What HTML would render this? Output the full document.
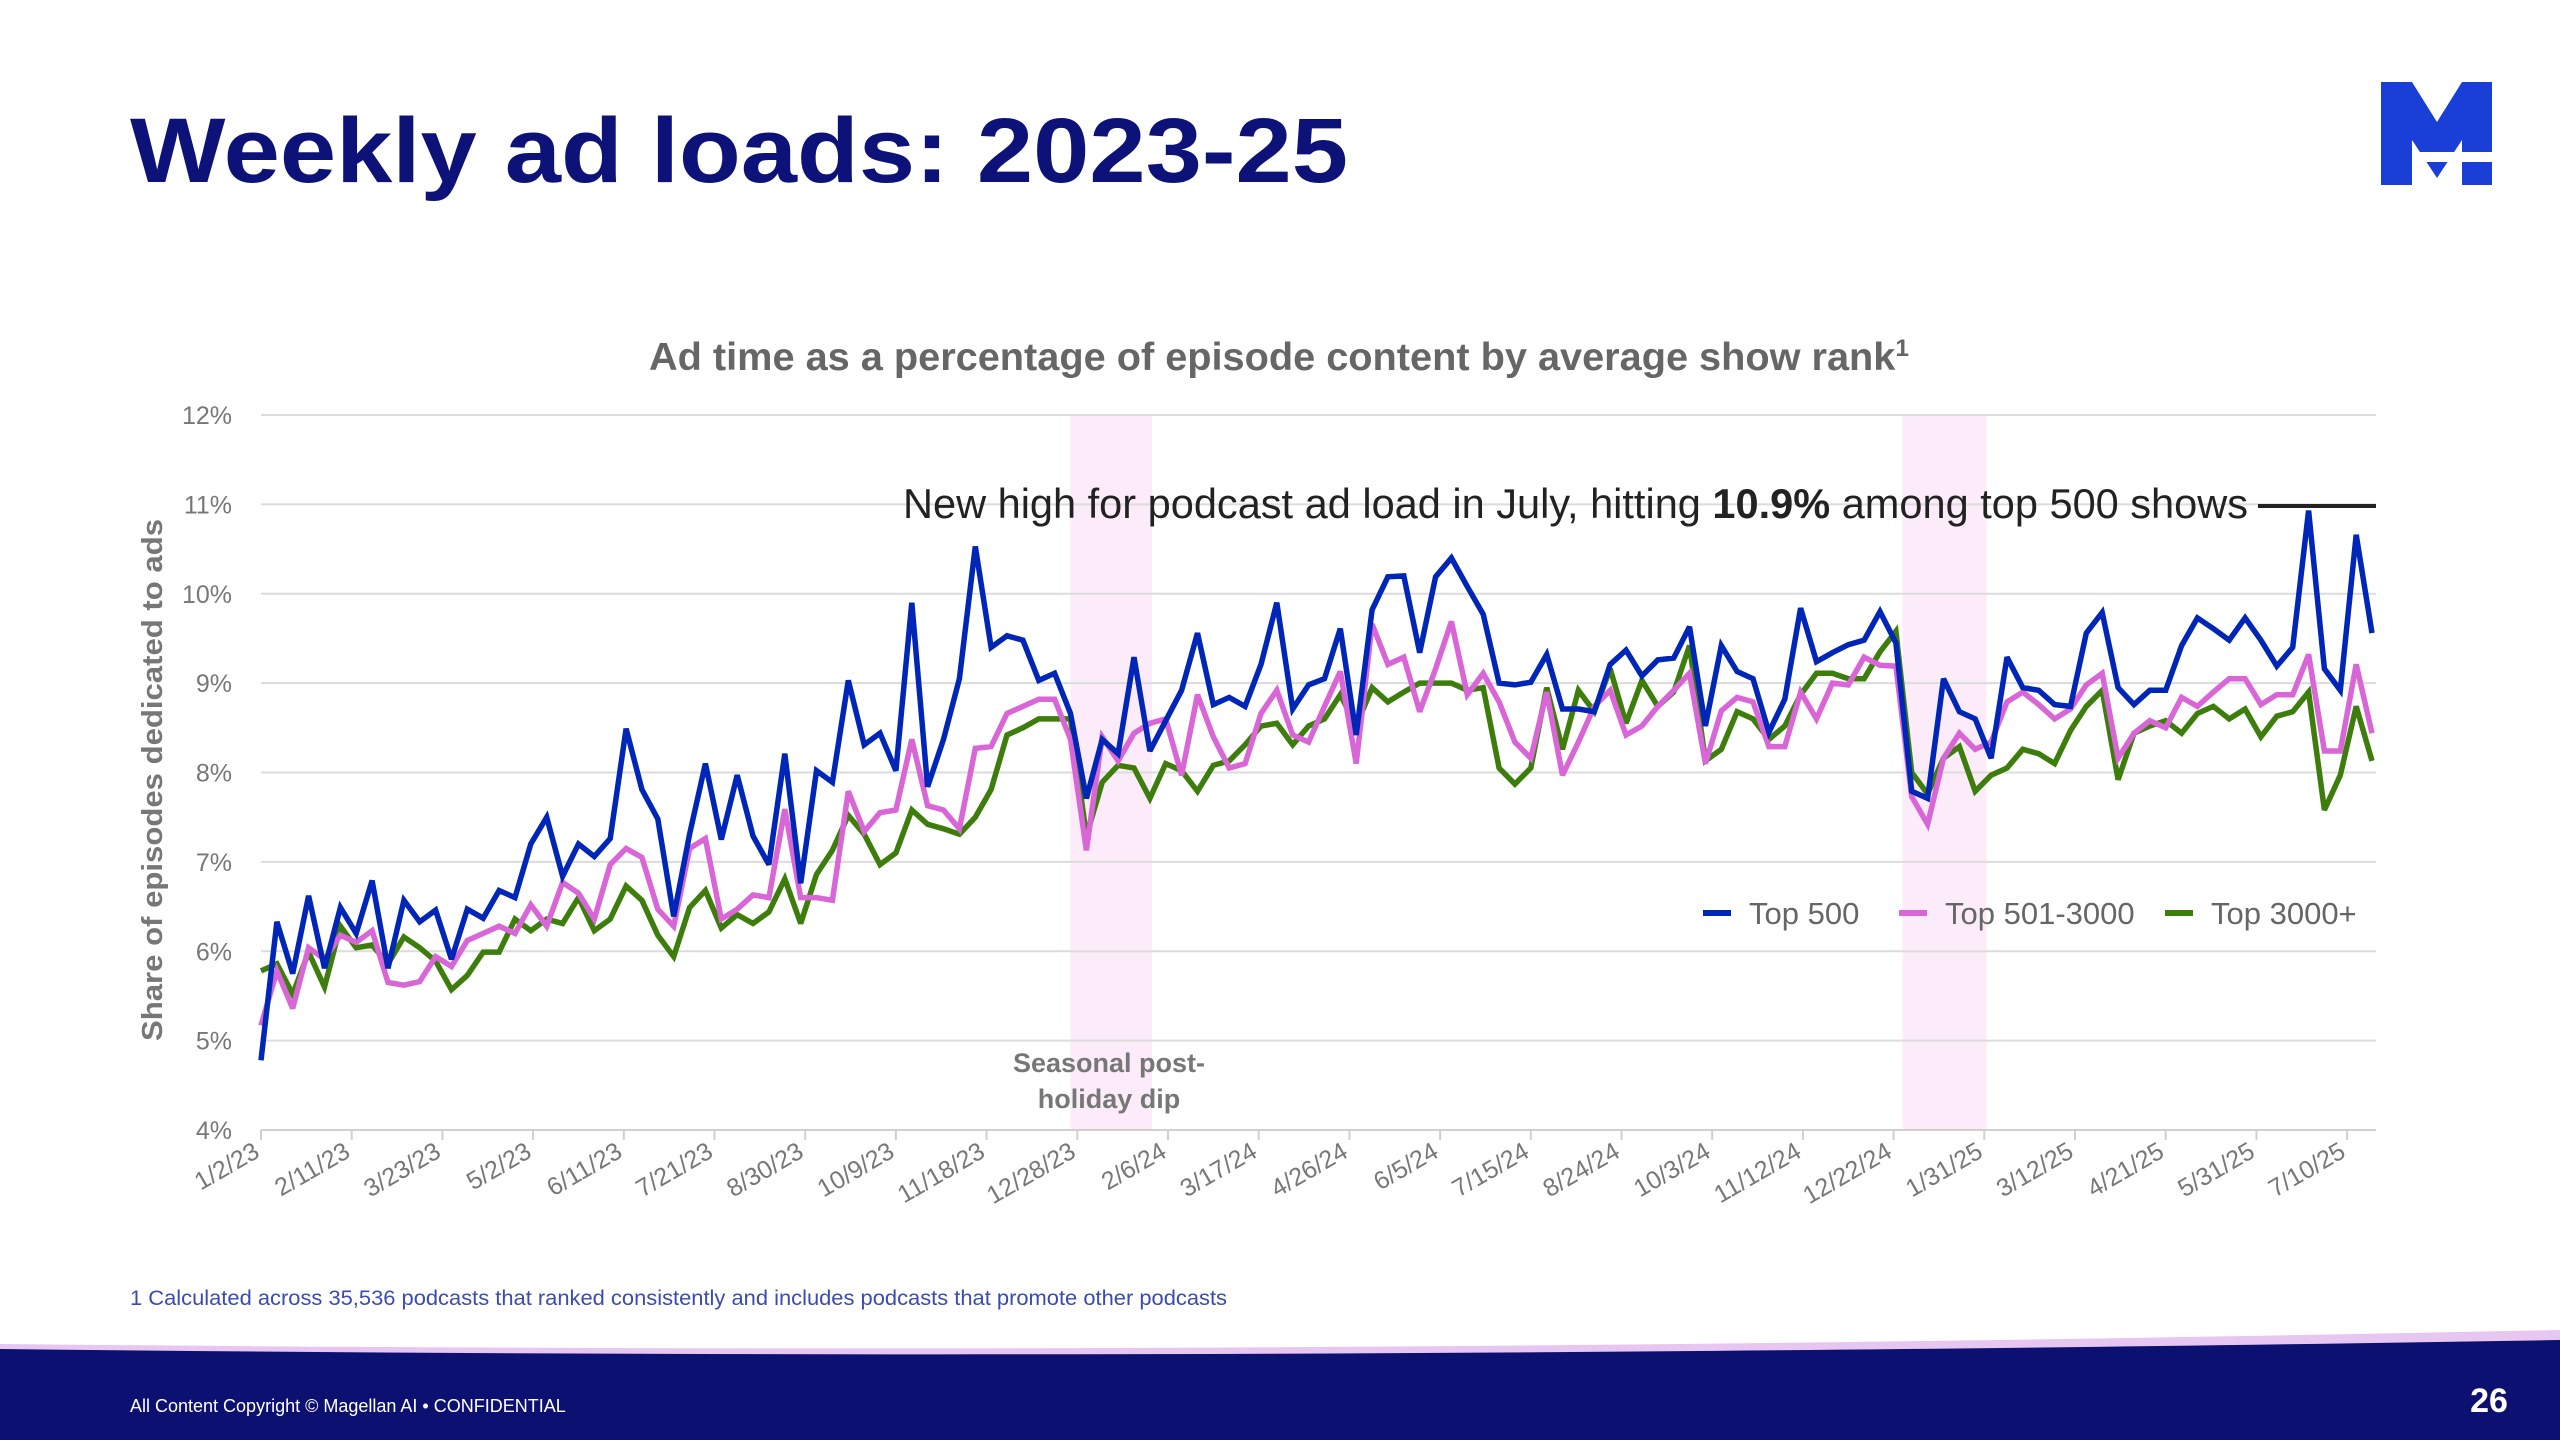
<!DOCTYPE html>
<html><head><meta charset="utf-8"><style>
html,body{margin:0;padding:0;background:#fff;}
svg{display:block;font-family:"Liberation Sans",sans-serif;}
</style></head><body>
<svg id="chart" width="2560" height="1440" viewBox="0 0 2560 1440" xmlns="http://www.w3.org/2000/svg">
<text x="130" y="182" font-size="92" font-weight="bold" fill="#0c1278" textLength="1218" lengthAdjust="spacingAndGlyphs">Weekly ad loads: 2023-25</text>
<g>
<polygon points="2381,82 2412,82 2437,122 2462,82 2492,82 2492,185 2462,185 2462,140 2437,178 2412,140 2412,185 2381,185" fill="#1a3fd6"/>
<rect x="2412" y="152" width="80" height="10" fill="#fff"/>
</g>
<text x="1279" y="370" text-anchor="middle" font-size="39" font-weight="bold" fill="#666" textLength="1260" lengthAdjust="spacingAndGlyphs">Ad time as a percentage of episode content by average show rank<tspan font-size="24" dy="-14">1</tspan></text>
<g id="plot"></g>
<text x="130" y="1305" font-size="21" fill="#3b4bb0" textLength="1097" lengthAdjust="spacingAndGlyphs">1 Calculated across 35,536 podcasts that ranked consistently and includes podcasts that promote other podcasts</text>
<path d="M0,1344 C800,1352 1600,1350 2560,1330 L2560,1440 L0,1440 Z" fill="#e8c6f2"/>
<path d="M0,1349 C800,1358 1600,1356 2560,1340 L2560,1440 L0,1440 Z" fill="#0c1070"/>
<text x="130" y="1412" font-size="18" fill="#fff">All Content Copyright © Magellan AI • CONFIDENTIAL</text>
<text x="2489" y="1412" text-anchor="middle" font-size="34" font-weight="bold" fill="#fff">26</text>
</svg>
<script>
const xTickLabels = ["1/2/23","2/11/23","3/23/23","5/2/23","6/11/23","7/21/23","8/30/23","10/9/23","11/18/23","12/28/23","2/6/24","3/17/24","4/26/24","6/5/24","7/15/24","8/24/24","10/3/24","11/12/24","12/22/24","1/31/25","3/12/25","4/21/25","5/31/25","7/10/25"];
const yTicks = [4,5,6,7,8,9,10,11,12];
const seriesNames = ["Top 500","Top 501-3000","Top 3000+"];
const top500 = [4.78,6.33,5.75,6.62,5.81,6.49,6.2,6.79,5.81,6.57,6.33,6.46,5.91,6.47,6.37,6.68,6.6,7.2,7.5,6.84,7.2,7.06,7.26,8.49,7.81,7.48,6.39,7.31,8.1,7.25,7.97,7.29,6.97,8.21,
6.76,
8.02,7.89,9.03,8.31,8.44,8.02,9.9,7.84,8.37,9.05,10.53,9.4,9.53,9.48,9.03,9.11,8.66,7.71,8.37,8.21,9.29,8.24,8.58,8.92,9.56,8.76,8.84,8.74,9.21,9.9,8.71,8.98,9.05,9.61,
8.42,9.82,10.19,10.2,9.34,10.19,10.4,10.08,9.77,9.0,8.98,9.01,9.32,8.71,8.71,8.68,9.21,9.37,9.08,9.26,9.28,9.63,8.52,9.42,9.13,9.05,8.45,8.82,9.84,9.24,9.34,9.43,9.48,
9.8,
9.45,7.79,7.71,9.05,8.68,8.6,8.16,9.29,8.95,8.92,8.76,8.74,9.56,9.79,8.95,8.76,8.92,8.92,9.42,9.73,9.61,9.48,9.73,9.48,9.19,9.4,10.93,9.16,8.92,10.66,9.56];
const top501to3000 = [5.17,5.78,5.36,6.04,5.91,6.18,6.1,6.23,5.65,5.62,5.66,5.94,5.83,6.12,6.2,6.28,6.2,6.52,6.28,6.77,6.65,6.36,6.97,7.15,7.05,6.47,6.28,7.15,7.26,6.36,6.47,6.63,6.6,7.59,
6.6,
6.6,6.57,7.79,7.34,7.55,7.58,8.37,7.63,7.58,7.37,8.27,8.29,8.66,8.74,8.82,8.82,8.37,7.13,8.4,8.13,8.44,8.55,8.6,7.97,8.87,8.4,8.05,8.1,8.66,8.92,8.42,8.34,8.74,9.13,
8.1,9.66,9.21,9.29,8.68,9.16,9.69,8.87,9.11,8.79,8.34,8.16,8.9,7.97,8.34,8.74,8.92,8.42,8.52,8.74,8.92,9.11,8.1,8.69,8.84,8.79,8.29,8.29,8.9,8.6,9.0,8.98,9.29,
9.2,
9.19,7.73,7.42,8.16,8.44,8.26,8.34,8.79,8.9,8.76,8.6,8.71,8.98,9.11,8.16,8.44,8.58,8.5,8.84,8.74,8.9,9.05,9.05,8.76,8.87,8.87,9.32,8.24,8.24,9.21,8.44];
const top3000plus = [5.78,5.86,5.52,5.99,5.6,6.28,6.04,6.07,5.86,6.16,6.04,5.89,5.57,5.73,5.99,5.99,6.36,6.23,6.36,6.31,6.6,6.23,6.36,6.73,6.57,6.18,5.94,6.49,6.68,6.26,6.41,6.31,6.44,6.81,
6.31,
6.86,7.13,7.52,7.31,6.97,7.1,7.58,7.42,7.37,7.31,7.5,7.81,8.42,8.5,8.6,8.6,8.6,7.29,7.89,8.08,8.05,7.71,8.1,8.02,7.79,8.08,8.13,8.31,8.52,8.55,8.31,8.52,8.6,8.87,
8.52,8.95,8.79,8.9,9.0,9.0,9.0,8.92,8.95,8.05,7.87,8.05,8.95,8.26,8.92,8.68,9.16,8.55,9.03,8.74,8.9,9.42,8.13,8.26,8.68,8.6,8.37,8.52,8.87,9.11,9.11,9.05,9.05,
9.35,
9.58,8.0,7.76,8.16,8.29,7.79,7.97,8.05,8.26,8.21,8.1,8.47,8.74,8.92,7.92,8.44,8.52,8.58,8.44,8.66,8.74,8.6,8.71,8.4,8.63,8.68,8.9,7.58,7.97,8.74,8.13];
const holidayBandsDays = [[357,393],[724,761]];

const NS="http://www.w3.org/2000/svg";
const plot=document.getElementById('plot');
const X0=261, X1=2376, PX_PER_DAY=90.7/40;
const Y_TOP=415, Y_BOT=1130, VMIN=4, VMAX=12;
function xDay(d){return X0+d*PX_PER_DAY;}
function xWeek(i){return xDay(i*7);}
function yVal(v){return Y_BOT-(v-VMIN)/(VMAX-VMIN)*(Y_BOT-Y_TOP);}
function mk(tag,attrs,parent){const e=document.createElementNS(NS,tag);for(const k in attrs)e.setAttribute(k,attrs[k]);(parent||plot).appendChild(e);return e;}

holidayBandsDays.forEach(b=>{
  const r=mk('rect',{x:xDay(b[0]),y:Y_TOP,width:xDay(b[1])-xDay(b[0]),height:Y_BOT-Y_TOP,fill:'#fcebf8'});
  
  
});
yTicks.forEach(v=>{
  const y=yVal(v);
  if(v>VMIN){const l=mk('line',{x1:X0,x2:X1,y1:y,y2:y,stroke:'#dcdcdc','stroke-width':2});
  
  }
  const t=mk('text',{x:232,y:y+9,'text-anchor':'end','font-size':25,fill:'#777'});
  t.textContent=v+'%';
  
  
});
const ax=mk('line',{x1:X0,x2:X1,y1:Y_BOT,y2:Y_BOT,stroke:'#d0d0d0','stroke-width':2});


xTickLabels.forEach((lab,k)=>{
  const x=xDay(k*40);
  const tk=mk('line',{x1:x,x2:x,y1:Y_BOT,y2:Y_BOT+10,stroke:'#d0d0d0','stroke-width':2});
  
  
  const t=mk('text',{x:x,y:Y_BOT+26,'text-anchor':'end','font-size':25,fill:'#777',transform:`rotate(-30 ${x} ${Y_BOT+26})`});
  t.textContent=lab;
  
  
});
const yt=mk('text',{x:0,y:0,'text-anchor':'middle','font-size':29,'font-weight':'bold',fill:'#777',transform:'translate(162,780) rotate(-90)',textLength:522,lengthAdjust:'spacingAndGlyphs'});
yt.textContent='Share of episodes dedicated to ads';



const colors=['#0026b8','#d966d6','#3d7d0c'];
const allSeries=[top500,top501to3000,top3000plus];
const names=['line-top-500','line-top-501-3000','line-top-3000-plus'];
[2,1,0].forEach(s=>{
  const d=allSeries[s].map((v,i)=>(i?'L':'M')+xWeek(i).toFixed(1)+','+yVal(v).toFixed(1)).join(' ');
  const p=mk('path',{d:d,fill:'none',stroke:colors[s],'stroke-width':5.5,'stroke-linejoin':'miter','stroke-miterlimit':3});
  
  
});

const ann=mk('text',{x:903,y:518,'font-size':42,fill:'#222',textLength:1345,lengthAdjust:'spacingAndGlyphs'});
ann.innerHTML='New high for podcast ad load in July, hitting <tspan font-weight="bold">10.9%</tspan> among top 500 shows';


const al=mk('line',{x1:2258,x2:2376,y1:506,y2:506,stroke:'#222','stroke-width':4});



const sd=mk('text',{x:1109,y:1072,'text-anchor':'middle','font-size':27,'font-weight':'bold',fill:'#777'});
sd.innerHTML='<tspan x="1109">Seasonal post-</tspan><tspan x="1109" dy="36">holiday dip</tspan>';



const legX=[1703,1899,2165];
seriesNames.forEach((n,s)=>{
  const g=mk('g',{});
  
  
  mk('line',{x1:legX[s],x2:legX[s]+28,y1:913,y2:913,stroke:colors[s],'stroke-width':6},g);
  const t=mk('text',{x:legX[s]+46,y:924,'font-size':31,fill:'#666'},g);
  t.textContent=n;
});
</script>
</body></html>
